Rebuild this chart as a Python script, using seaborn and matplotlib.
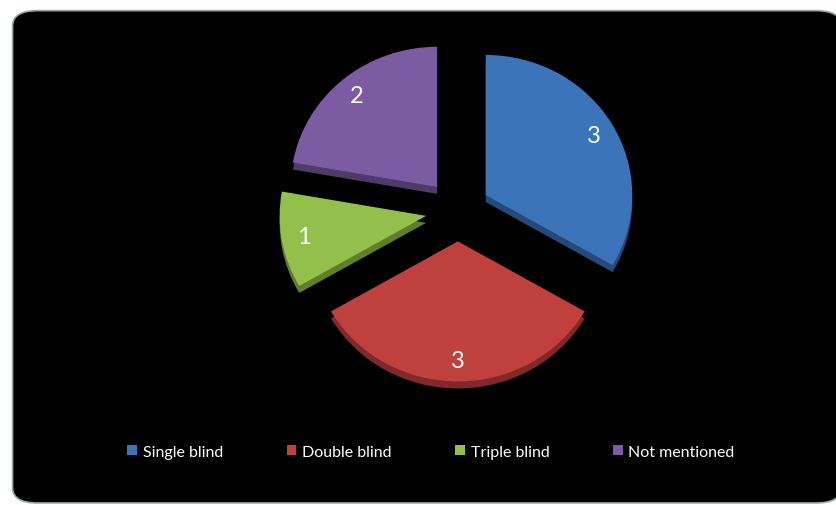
import matplotlib
matplotlib.use("Agg")
import matplotlib.pyplot as plt
import seaborn as sns
from matplotlib.patches import FancyBboxPatch

# ---------------- data ----------------
categories = ["Single blind", "Double blind", "Triple blind", "Not mentioned"]
counts = [3, 3, 1, 2]
colors = ["#3b74b9", "#c0403d", "#93bf4b", "#7b5ba1"]
side_colors = ["#24497a", "#80282a", "#5f7f2c", "#4f3a6a"]

sns.set_style("white")
plt.rcParams["font.family"] = ["Lato", "DejaVu Sans"]

fig = plt.figure(figsize=(8.37, 5.06), dpi=100)
fig.patch.set_facecolor("white")

# background axes holding the black rounded panel
bg = fig.add_axes([0, 0, 1, 1], zorder=-5)
bg.set_xlim(0, 1)
bg.set_ylim(0, 1)
bg.axis("off")
bg.add_patch(FancyBboxPatch((0.015, 0.004), 0.99, 0.973,
                            boxstyle="round,pad=0,rounding_size=0.03",
                            facecolor="black", edgecolor="#9aa8a8",
                            linewidth=1.2))

ax = fig.add_axes([0.3195, 0.222, 0.455, 0.72], zorder=1)
ax.set_facecolor("none")

explode = [0.22] * len(counts)

# darker copy shifted down for the 3D edge
ax.pie(counts, colors=side_colors, startangle=90, counterclock=False,
       explode=explode, center=(0, -0.05), radius=1.0,
       wedgeprops=dict(linewidth=0))

wedges, texts, autotexts = ax.pie(
    counts, colors=colors, startangle=90, counterclock=False,
    explode=explode, radius=1.0,
    autopct=lambda p: f"{round(p * sum(counts) / 100):d}",
    pctdistance=0.85, wedgeprops=dict(linewidth=0),
    textprops=dict(color="white", fontsize=17))
ax.set_aspect("auto")
ax.set_xlim(-1.3, 1.3)
ax.set_ylim(-1.3, 1.3)
ax.axis("off")

leg = fig.legend(wedges, categories, loc="center", bbox_to_anchor=(0.515, 0.105),
                 ncol=4, frameon=False, fontsize=11.5, handlelength=0.6,
                 handleheight=0.6, handletextpad=0.35, columnspacing=4.0)
for t in leg.get_texts():
    t.set_color("white")

fig.savefig("out.png", dpi=100, facecolor="white")
